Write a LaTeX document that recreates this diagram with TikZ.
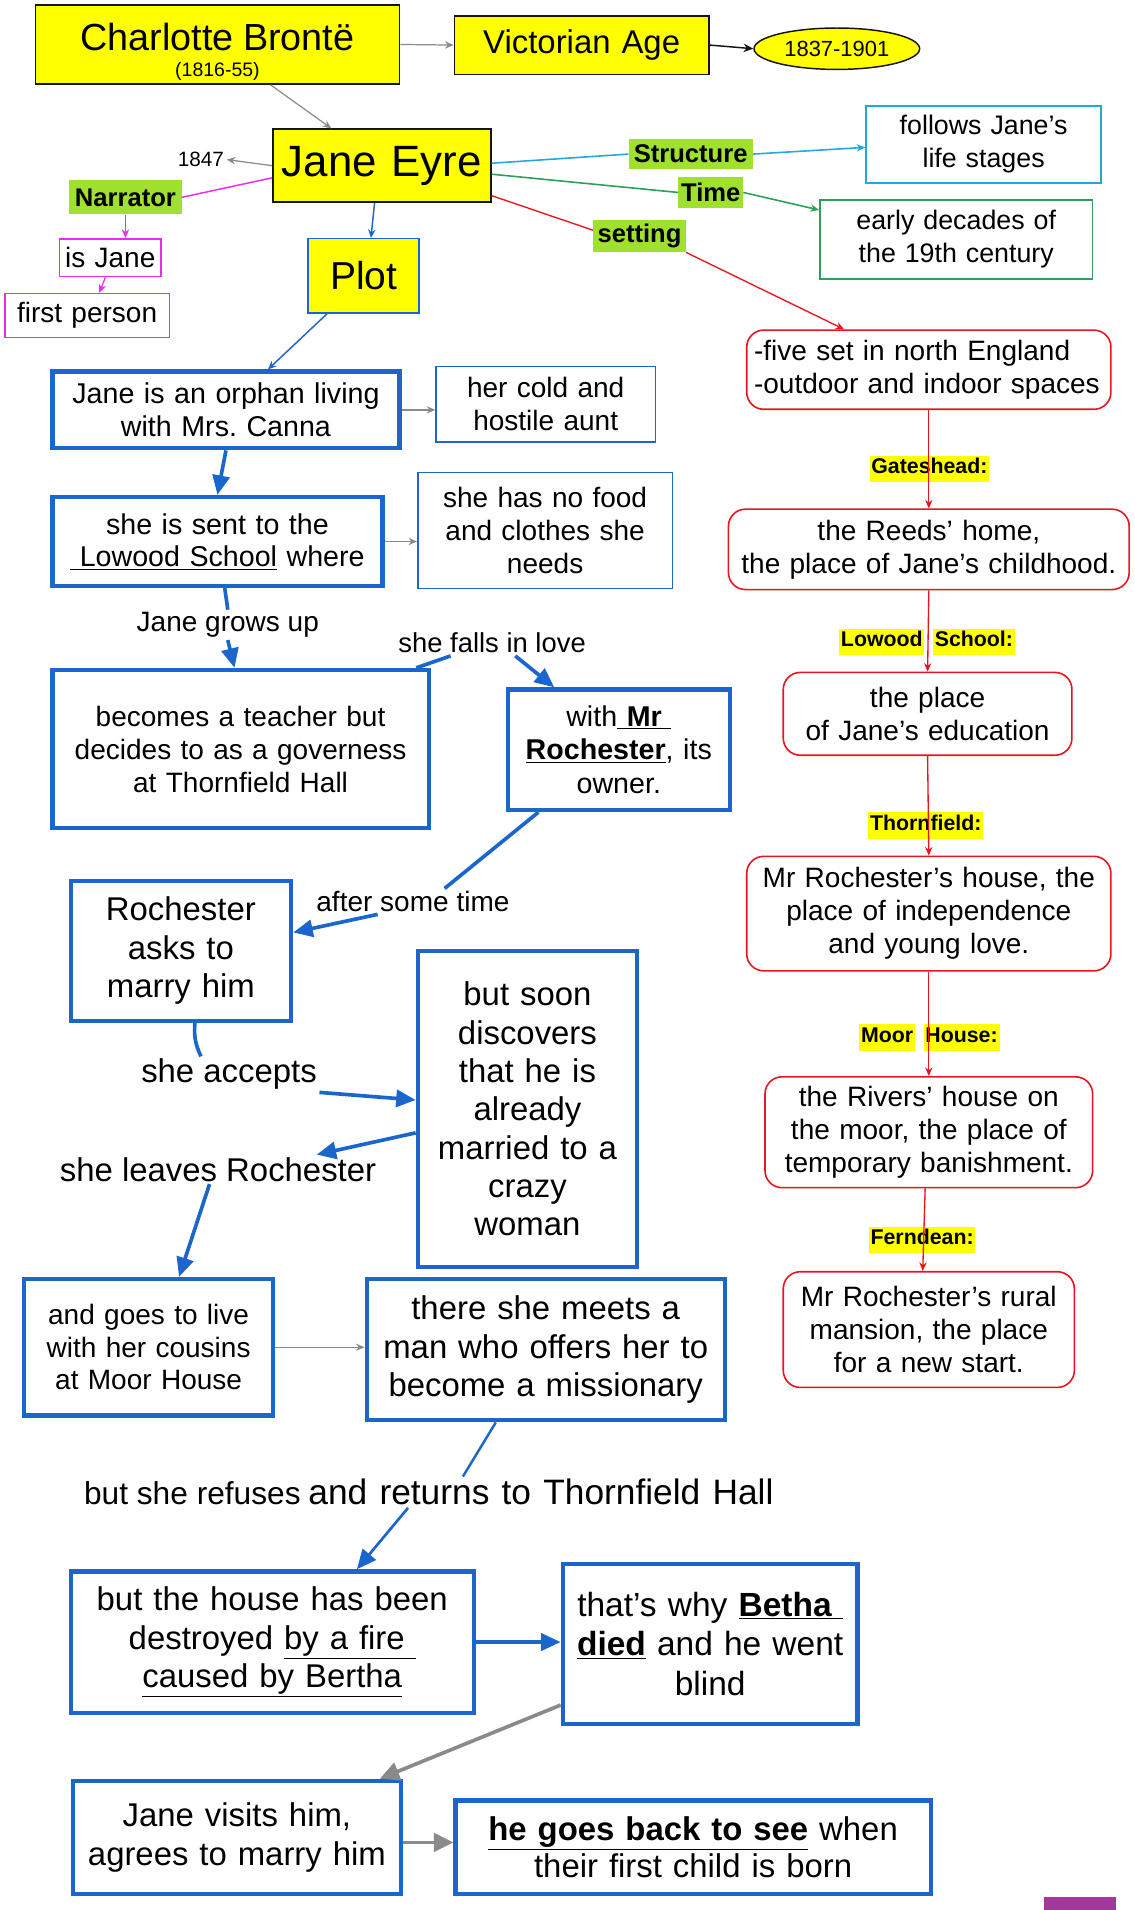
\documentclass[tikz,border=0pt]{standalone}
\usepackage{fontspec}
\setmainfont{Liberation Sans}
\usepackage{xcolor}
\usepackage{tikz}
\usetikzlibrary{arrows.meta,positioning,shapes.geometric}
\definecolor{plotblue}{HTML}{1A66CC}
\definecolor{hiyellow}{HTML}{FFFF00}
\definecolor{higreen}{HTML}{A0E02E}
\definecolor{setred}{HTML}{E8141E}
\definecolor{narrpink}{HTML}{EE2AEE}
\definecolor{structcyan}{HTML}{22A8DC}
\definecolor{timegreen}{HTML}{2E9E5C}
\definecolor{linkgray}{HTML}{8A8A8A}
\definecolor{ink}{HTML}{151515}
\definecolor{cornerpurple}{HTML}{A3389B}
\newcommand{\fs}[2]{\fontsize{#1}{#2}\selectfont}
\newcommand{\hilite}[1]{{\setlength{\fboxsep}{1.5pt}\colorbox{hiyellow}{\strut #1}}}
\frenchspacing

\begin{document}
\begin{tikzpicture}[
  x=1pt, y=-1pt,
  font=\fs{23}{27},
  ybox/.style={draw=ink, line width=1.2pt, fill=hiyellow, inner sep=0pt, align=center},
  bbox/.style={draw=plotblue, line width=3.5pt, fill=white, inner sep=0pt, align=center},
  tbox/.style={draw=plotblue, line width=1.3pt, inner sep=0pt, align=center},
  pbox/.style={draw=narrpink, line width=1.3pt, inner sep=0pt, align=center},
  rbox/.style={draw=setred, line width=1.3pt, rounded corners=14pt, inner sep=0pt, align=center},
  gtag/.style={fill=higreen, inner sep=2pt, font=\fs{21}{25}\bfseries},
  ytag/.style={inner sep=0pt, font=\fs{17.5}{19}\bfseries},
  word/.style={inner sep=2pt},
  gflow/.style={-{Stealth[length=7pt,width=6pt]}, draw=linkgray, line width=1pt},
  kflow/.style={-{Stealth[length=8pt,width=7pt]}, draw=ink, line width=1.2pt},
  rflow/.style={-{Stealth[length=7pt,width=6pt]}, draw=setred, line width=1.1pt},
  bthin/.style={-{Stealth[length=7pt,width=6pt]}, draw=plotblue, line width=1.2pt},
  bflow/.style={-{Triangle[length=16pt,width=14pt]}, draw=plotblue, line width=3pt},
  bline/.style={draw=plotblue, line width=3pt},
  grayflow/.style={-{Triangle[length=16pt,width=15pt]}, draw=linkgray, line width=3pt},
]
  \useasboundingbox (0,0) rectangle (931,1568);
  \fill[white] (0,0) rectangle (931,1568);

  \node[ybox, text width=299pt, minimum height=65pt] (charlotte) at (178.5,36.5)
    {{\fs{31}{34}\rule{0pt}{35pt}Charlotte Brontë}\\[-6pt]{\fs{16}{18}(1816-55)}};
  \node[ybox, text width=209pt, minimum height=48pt, font=\fs{27}{31}] (victorian) at (477.5,37) {Victorian Age};
  \node[ellipse, draw=ink, line width=1.2pt, fill=hiyellow, minimum width=136pt, minimum height=34pt,
    inner sep=0pt, font=\fs{18}{20}] (years) at (687,40) {1837-1901};
  \node[ybox, text width=179pt, minimum height=60pt, font=\fs{36}{40}] (jane) at (313.5,136) {Jane Eyre};
  \node[word, font=\fs{17}{20}] (y1847) at (165,131) {1847};
  \node[gtag, minimum width=92pt, minimum height=28pt] (narrator) at (103,162) {Narrator};
  \node[pbox, text width=83pt, minimum height=31pt] (isjane) at (90.5,211.5) {is Jane};
  \node[pbox, text width=135pt, minimum height=36pt] (firstp) at (71.5,259) {first person};
  \node[gtag, minimum width=102pt, minimum height=25pt] (structure) at (567,126.5) {Structure};
  \node[tbox, draw=structcyan, text width=193pt, minimum height=63pt, font=\fs{22}{27}] (follows) at (807.5,118.5)
    {follows Jane's\\life stages};
  \node[gtag, minimum width=53pt, minimum height=26pt] (time) at (583.5,158) {Time};
  \node[tbox, draw=timegreen, text width=224pt, minimum height=65pt, font=\fs{22}{27}] (early) at (785,196.5)
    {early decades of\\the 19th century};
  \node[gtag, minimum width=76pt, minimum height=26pt] (setting) at (525,194) {setting};

  \node[rbox, align=left, text width=287pt, inner xsep=6pt, minimum height=65pt] (five) at (762.5,303.5)
    {-five set in north England\\-outdoor and indoor spaces};
  \node[ytag] (gates) at (763,385) {\hilite{Gateshead:}};
  \node[rbox, text width=329pt, minimum height=66pt] (reeds) at (762.5,451)
    {the Reeds’ home,\\the place of Jane’s childhood.};
  \node[ytag] (lowood) at (761,527) {\hilite{Lowood}\hspace{7pt}\hilite{School:}};
  \node[rbox, text width=237pt, minimum height=68pt] (educ) at (761.5,586)
    {the place\\of Jane’s education};
  \node[ytag] (thorn) at (760,678) {\hilite{Thornfield:}};
  \node[rbox, text width=299pt, minimum height=94pt] (rhouse) at (762.5,750)
    {Mr Rochester’s house, the\\place of independence\\and young love.};
  \node[ytag] (moor) at (763,852) {\hilite{Moor}\hspace{7pt}\hilite{House:}};
  \node[rbox, text width=269pt, minimum height=91pt] (rivers) at (762.5,929.5)
    {the Rivers’ house on\\the moor, the place of\\temporary banishment.};
  \node[ytag] (fern) at (757,1018) {\hilite{Ferndean:}};
  \node[rbox, text width=239pt, minimum height=95pt] (rural) at (762.5,1091.5)
    {Mr Rochester’s rural\\mansion, the place\\for a new start.};

  \node[ybox, draw=plotblue, text width=91pt, minimum height=61pt, font=\fs{32}{36}] (plot) at (298.5,226.5) {Plot};
  \node[bbox, text width=285pt, minimum height=63pt, font=\fs{23.5}{27}] (orphan) at (185.5,336.5)
    {Jane is an orphan living\\with Mrs. Canna};
  \node[tbox, text width=180pt, minimum height=62pt] (aunt) at (448,332) {her cold and\\hostile aunt};
  \node[bbox, text width=271pt, minimum height=73pt, font=\fs{23.5}{27}] (sent) at (178.5,444.5)
    {she is sent to the\\\underline{\ Lowood School} where};
  \node[tbox, text width=209pt, minimum height=95pt] (food) at (447.5,435.5)
    {she has no food\\and clothes she\\needs};
  \node[word] (grows) at (187,513) {Jane grows up};
  \node[bbox, text width=309pt, minimum height=130pt] (becomes) at (197.5,615)
    {becomes a teacher but\\decides to as a governess\\at Thornfield Hall};
  \node[word, font=\fs{22.5}{27}] (falls) at (404,528) {she falls in love};
  \node[bbox, text width=182pt, minimum height=99pt, font=\fs{23.5}{27.5}] (withmr) at (508,615.5)
    {with\underline{ \textbf{Mr} }\\\underline{\textbf{Rochester}}, its\\owner.};
  \node[word] (after) at (339,740) {after some time};
  \node[bbox, text width=181pt, minimum height=115pt, font=\fs{27}{31.5}] (asks) at (148.5,780.5)
    {Rochester\\asks to\\marry him};
  \node[word, font=\fs{27}{31}] (accepts) at (188,882) {she accepts};
  \node[bbox, text width=180pt, minimum height=259pt, font=\fs{27}{31.5}] (soon) at (433,910.5)
    {but soon\\discovers\\that he is\\already\\married to a\\crazy\\woman};
  \node[word, font=\fs{27}{31}] (leaves) at (179,960) {she leaves Rochester};
  \node[bbox, text width=204pt, minimum height=112pt, font=\fs{23}{26.5}] (cousins) at (122,1106)
    {and goes to live\\with her cousins\\at Moor House};
  \node[bbox, text width=294pt, minimum height=116pt, font=\fs{27}{31.5}] (meets) at (448,1108)
    {there she meets a\\man who offers her to\\become a missionary};
  \node[word] (refuses) at (352,1225)
    {{\fs{26}{30}but she refuses} {\fs{29}{33}and\hspace{10pt}returns\hspace{10pt}to\hspace{10pt}Thornfield\hspace{10pt}Hall}};
  \node[bbox, text width=331pt, minimum height=116pt, font=\fs{27}{31.5}] (destroyed) at (223.5,1348)
    {but the house has been\\destroyed \underline{by a fire\ }\\\underline{caused by Bertha}};
  \node[bbox, text width=242pt, minimum height=131pt, font=\fs{27.5}{32.5}] (betha) at (583,1349.5)
    {that’s why \underline{\textbf{Betha}\ }\\\underline{\textbf{died}} and he went\\blind};
  \node[bbox, text width=269pt, minimum height=93pt, font=\fs{27}{32}] (visits) at (194.5,1508.5)
    {Jane visits him,\\agrees to marry him};
  \node[bbox, text width=390pt, minimum height=77pt, font=\fs{27}{31}] (goesback) at (569,1516.5)
    {\underline{\textbf{he goes back to see}} when\\their first child is born};

  \draw[gflow] (charlotte.east) -- (victorian.west);
  \draw[kflow] (victorian.east) -- (years.west);
  \draw[gflow] ([xshift=43.5pt]charlotte.south) -- ([xshift=-41.5pt]jane.north);
  \draw[gflow] (jane.west) -- (y1847.east);
  \draw[narrpink, line width=1.2pt] ([yshift=-10pt]jane.west) -- (narrator.east);
  \draw[gflow, draw=narrpink] (narrator.south) -- (narrator.south |- isjane.north);
  \draw[gflow, draw=narrpink] ([xshift=-4pt]isjane.south) -- ([xshift=10pt]firstp.north);
  \draw[structcyan, line width=1.3pt] ([yshift=2pt]jane.east) -- (structure.west);
  \draw[gflow, draw=structcyan, line width=1.3pt] (structure.east) -- ([yshift=-2.5pt]follows.west);
  \draw[timegreen, line width=1.3pt] ([yshift=-7pt]jane.east) -- (time.west);
  \draw[gflow, draw=timegreen, line width=1.3pt] (time.east) -- ([yshift=-9pt]early.north west);
  \draw[setred, line width=1.1pt] ([yshift=6pt]jane.south east) -- ([yshift=5pt]setting.west);
  \draw[rflow] (setting.south east) -- ([xshift=-69.5pt]five.north);

  \draw[rflow] (five.south) -- (reeds.north);
  \draw[rflow] (reeds.south) -- (educ.north);
  \draw[rflow] (educ.south) -- (rhouse.north);
  \draw[rflow] (rhouse.south) -- (rivers.north);
  \draw[rflow] ([xshift=-3pt]rivers.south) -- ([xshift=-5pt]rural.north);

  \draw[bthin] ([xshift=-6pt]jane.south) -- ([xshift=6pt]plot.north);
  \draw[bthin] ([xshift=-30pt]plot.south) -- ([xshift=34.5pt]orphan.north);
  \draw[gflow] (orphan.east) -- (orphan.east -| aunt.west);
  \draw[bflow] (orphan.south) -- (sent.north);
  \draw[gflow] (sent.east) -- (sent.east -| food.west);
  \draw[bline] ([xshift=6pt]sent.south) -- (grows.north);
  \draw[bflow] (grows.south) -- ([xshift=-5pt]becomes.north);
  \draw[bline] ([xshift=-12pt]becomes.north east) -- ([xshift=45pt]falls.south west);
  \draw[bflow] ([xshift=19pt]falls.south) -- ([xshift=-53pt]withmr.north);
  \draw[bline] ([xshift=-66pt]withmr.south) -- ([xshift=26pt]after.north);
  \draw[bflow] ([xshift=-29pt]after.south) -- ([yshift=15pt]asks.east);
  \draw[bline] ([xshift=11.5pt]asks.south) to[bend right=15] ([xshift=-23pt]accepts.north);
  \draw[bflow] (accepts.south east) -- ([yshift=7.5pt]soon.west);
  \draw[bflow] ([yshift=-19.5pt]soon.west) -- ([xshift=81pt]leaves.north);
  \draw[bflow] ([xshift=-7pt]leaves.south) -- ([xshift=25pt]cousins.north);
  \draw[gflow] (cousins.east) -- (cousins.east -| meets.west);
  \draw[plotblue, line width=2pt] ([xshift=-41pt]meets.south) -- ([xshift=28pt]refuses.north);
  \draw[bflow, line width=2.2pt] ([xshift=-17pt]refuses.south) -- ([xshift=69.5pt]destroyed.north);
  \draw[bflow] (destroyed.east) -- (destroyed.east -| betha.west);
  \draw[grayflow] ([yshift=17pt]betha.south west) -- ([xshift=-19pt]visits.north east);
  \draw[grayflow] ([yshift=-4pt]visits.east) -- ([yshift=-4pt]visits.east -| goesback.west);

  \fill[cornerpurple] (857,1557) rectangle (916,1568);
\end{tikzpicture}
\end{document}
